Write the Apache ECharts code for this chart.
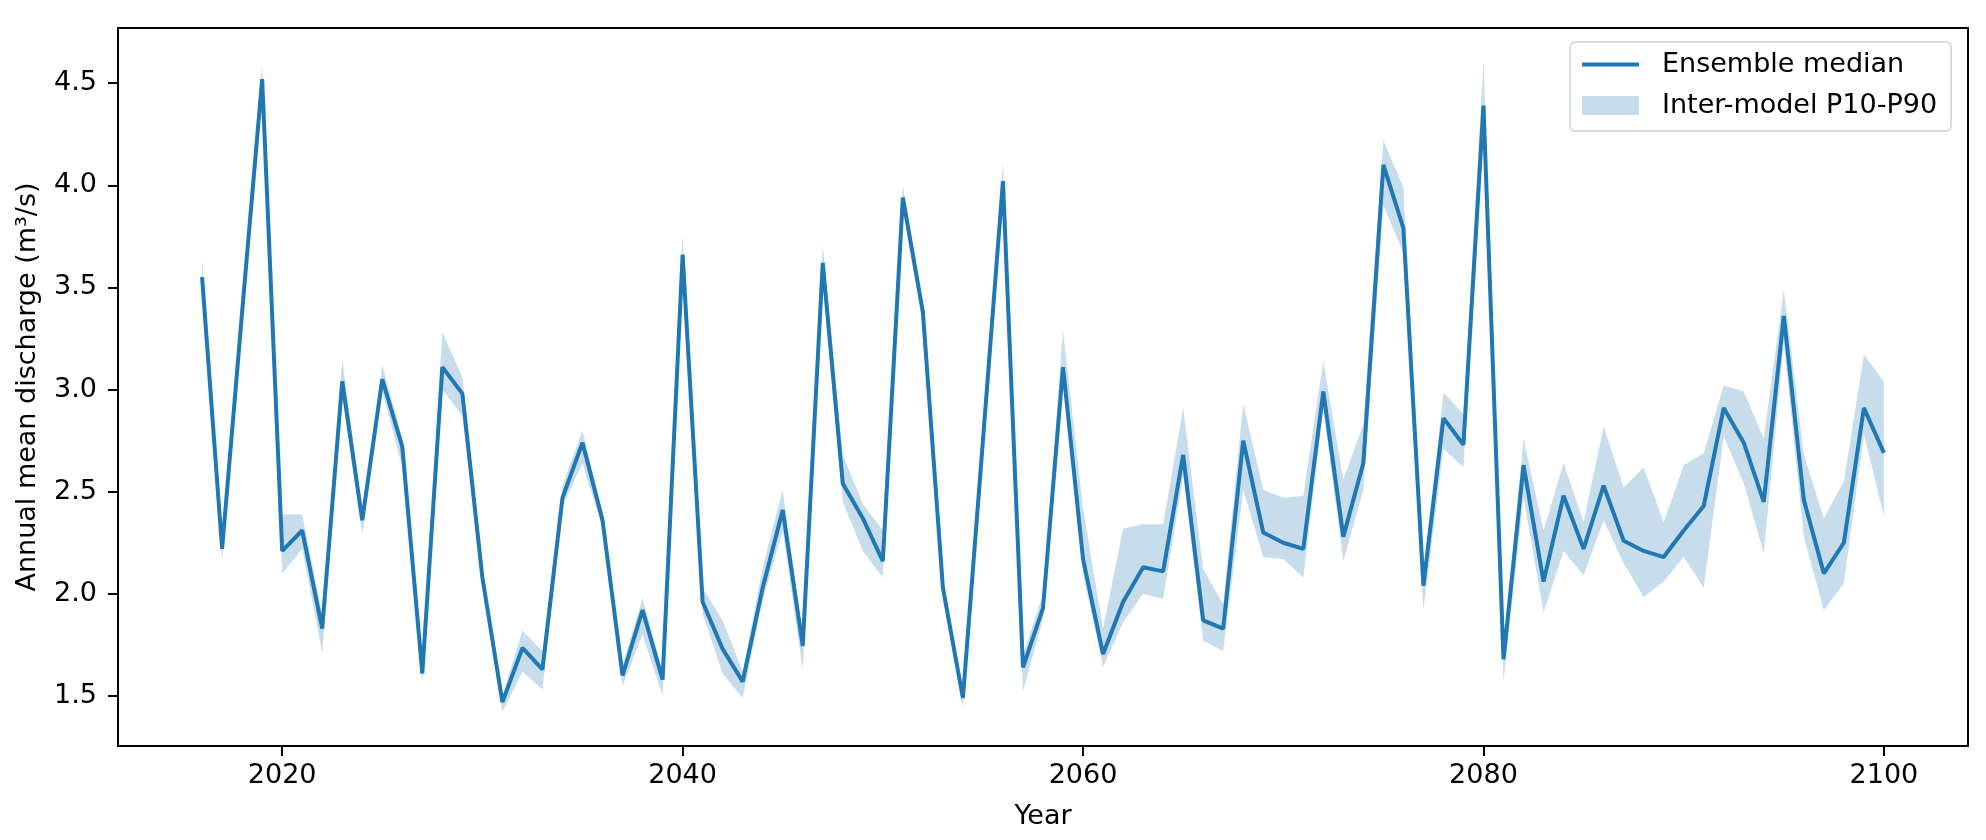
<!DOCTYPE html>
<html style="height: 100%">
<head>
    <meta charset="utf-8">
</head>
<body style="height: 100%; margin: 0; background: #fff">
    <div id="container" style="width: 1986px; height: 840px;"></div>
    <script type="text/javascript" src="https://cdn.jsdelivr.net/npm/echarts@6/dist/echarts.min.js"></script>
    <script type="text/javascript">
        var years = [2016, 2017, 2018, 2019, 2020, 2021, 2022, 2023, 2024, 2025,
            2026, 2027, 2028, 2029, 2030, 2031, 2032, 2033, 2034, 2035,
            2036, 2037, 2038, 2039, 2040, 2041, 2042, 2043, 2044, 2045,
            2046, 2047, 2048, 2049, 2050, 2051, 2052, 2053, 2054, 2055,
            2056, 2057, 2058, 2059, 2060, 2061, 2062, 2063, 2064, 2065,
            2066, 2067, 2068, 2069, 2070, 2071, 2072, 2073, 2074, 2075,
            2076, 2077, 2078, 2079, 2080, 2081, 2082, 2083, 2084, 2085,
            2086, 2087, 2088, 2089, 2090, 2091, 2092, 2093, 2094, 2095,
            2096, 2097, 2098, 2099, 2100];
        var median = [3.55, 2.22, 3.38, 4.52, 2.21, 2.31, 1.83, 3.04, 2.36, 3.05,
            2.72, 1.61, 3.11, 2.98, 2.08, 1.47, 1.735, 1.63, 2.47, 2.74,
            2.36, 1.60, 1.92, 1.58, 3.66, 1.96, 1.73, 1.57, 2.03, 2.41,
            1.745, 3.62, 2.54, 2.37, 2.16, 3.94, 3.38, 2.03, 1.49, 2.75,
            4.02, 1.64, 1.93, 3.11, 2.17, 1.705, 1.96, 2.13, 2.11, 2.68,
            1.87, 1.83, 2.75, 2.30, 2.25, 2.22, 2.99, 2.28, 2.64, 4.10,
            3.79, 2.04, 2.86, 2.73, 4.39, 1.68, 2.63, 2.06, 2.48, 2.22,
            2.53, 2.26, 2.21, 2.18, 2.31, 2.43, 2.91, 2.74, 2.45, 3.36,
            2.46, 2.10, 2.25, 2.91, 2.69];
        var p10 = [3.50, 2.16, 3.33, 4.47, 2.10, 2.22, 1.71, 2.98, 2.29, 2.99,
            2.62, 1.57, 3.00, 2.87, 2.03, 1.42, 1.62, 1.53, 2.43, 2.64,
            2.32, 1.55, 1.80, 1.50, 3.60, 1.90, 1.61, 1.49, 1.97, 2.31,
            1.63, 3.55, 2.45, 2.21, 2.08, 3.88, 3.32, 1.98, 1.44, 2.70,
            3.96, 1.52, 1.88, 3.05, 2.10, 1.64, 1.86, 2.00, 1.975, 2.58,
            1.77, 1.72, 2.51, 2.18, 2.17, 2.08, 2.90, 2.16, 2.51, 3.90,
            3.67, 1.92, 2.71, 2.62, 4.30, 1.57, 2.47, 1.91, 2.21, 2.09,
            2.36, 2.15, 1.985, 2.06, 2.18, 2.03, 2.77, 2.54, 2.20, 3.23,
            2.28, 1.92, 2.05, 2.78, 2.38];
        var p90 = [3.65, 2.26, 3.42, 4.59, 2.39, 2.39, 1.90, 3.15, 2.41, 3.12,
            2.76, 1.66, 3.28, 3.06, 2.12, 1.50, 1.82, 1.72, 2.53, 2.80,
            2.40, 1.65, 1.98, 1.62, 3.76, 2.03, 1.87, 1.62, 2.13, 2.51,
            1.79, 3.71, 2.68, 2.44, 2.31, 4.00, 3.41, 2.06, 1.53, 2.80,
            4.11, 1.70, 2.00, 3.29, 2.42, 1.83, 2.32, 2.34, 2.34, 2.91,
            2.12, 1.95, 2.93, 2.51, 2.47, 2.48, 3.14, 2.56, 2.83, 4.22,
            3.99, 2.10, 2.985, 2.88, 4.61, 1.73, 2.76, 2.31, 2.64, 2.35,
            2.82, 2.52, 2.62, 2.35, 2.63, 2.69, 3.02, 2.99, 2.76, 3.49,
            2.68, 2.37, 2.55, 3.17, 3.04];
        var xTicks = [2020, 2040, 2060, 2080, 2100];
        var yTicks = [1.5, 2.0, 2.5, 3.0, 3.5, 4.0, 4.5];

        var dom = document.getElementById("container");
        var myChart = echarts.init(dom);
        var font = 'DejaVu Sans';
        var blue = '#1f77b4';
        var bandColor = 'rgba(31,119,180,0.25)';

        var bandData = [], medData = [];
        for (var i = 0; i < years.length; i++) {
            bandData.push([years[i], p10[i], p90[i]]);
            medData.push([years[i], median[i]]);
        }

        // one polygon: P10 going right, P90 coming back
        function renderBand(params, api) {
            if (params.dataIndex !== 0) return;
            var pts = [];
            for (var k = 0; k < bandData.length; k++) {
                pts.push(api.coord([bandData[k][0], bandData[k][1]]));
            }
            for (var k = bandData.length - 1; k >= 0; k--) {
                pts.push(api.coord([bandData[k][0], bandData[k][2]]));
            }
            return {
                type: 'polygon',
                shape: { points: pts },
                style: { fill: bandColor, stroke: null }
            };
        }

        var option = {
            animation: false,
            backgroundColor: '#fff',
            textStyle: { fontFamily: font },
            grid: {
                left: 118, right: 18, top: 28, bottom: 94,
                show: true, borderColor: '#000', borderWidth: 2, backgroundColor: 'transparent'
            },
            legend: {
                orient: 'vertical',
                left: 1570,
                top: 42,
                padding: [9, 14, 12, 10],
                itemGap: 14,
                itemWidth: 57,
                itemHeight: 19,
                borderColor: '#d0d0d0',
                borderWidth: 1.5,
                borderRadius: 5,
                backgroundColor: 'rgba(255,255,255,0.8)',
                textStyle: { fontFamily: font, fontSize: 27, color: '#000', padding: [0, 0, 0, 18] },
                data: [
                    { name: 'Ensemble median', itemStyle: { opacity: 0 }, lineStyle: { width: 4 } },
                    { name: 'Inter-model P10-P90', icon: 'rect', itemStyle: { color: bandColor, borderWidth: 0 } }
                ]
            },
            xAxis: {
                type: 'value',
                min: 2011.8,
                max: 2104.2,
                name: 'Year',
                nameLocation: 'middle',
                nameGap: 57,
                nameTextStyle: { fontFamily: font, fontSize: 27, color: '#000' },
                axisLine: { show: true, lineStyle: { color: '#000', width: 2 } },
                axisTick: { show: true, length: 10, lineStyle: { color: '#000', width: 2 }, customValues: xTicks },
                axisLabel: {
                    fontFamily: font, fontSize: 27, color: '#000', margin: 16, customValues: xTicks,
                    formatter: function (v) { return String(v); }
                },
                splitLine: { show: false }
            },
            yAxis: {
                type: 'value',
                min: 1.255,
                max: 4.77,
                name: 'Annual mean discharge (m³/s)',
                nameLocation: 'middle',
                nameGap: 77,
                nameTextStyle: { fontFamily: font, fontSize: 27, color: '#000' },
                axisLine: { show: true, lineStyle: { color: '#000', width: 2 } },
                axisTick: { show: true, length: 10, lineStyle: { color: '#000', width: 2 }, customValues: yTicks },
                axisLabel: {
                    fontFamily: font, fontSize: 27, color: '#000', margin: 21, customValues: yTicks,
                    formatter: function (v) { return v.toFixed(1); }
                },
                splitLine: { show: false }
            },
            series: [
                {
                    name: 'Inter-model P10-P90',
                    type: 'custom',
                    data: bandData,
                    encode: { x: 0, y: [1, 2] },
                    renderItem: renderBand,
                    silent: true,
                    clip: true,
                    z: 1,
                    itemStyle: { color: bandColor }
                },
                {
                    name: 'Ensemble median',
                    type: 'line',
                    data: medData,
                    symbol: 'none',
                    silent: true,
                    z: 5,
                    itemStyle: { color: blue },
                    lineStyle: { color: blue, width: 4 }
                }
            ]
        };
        if (option && typeof option === "object") {
            myChart.setOption(option, true);
        }
    </script>
</body>
</html>
